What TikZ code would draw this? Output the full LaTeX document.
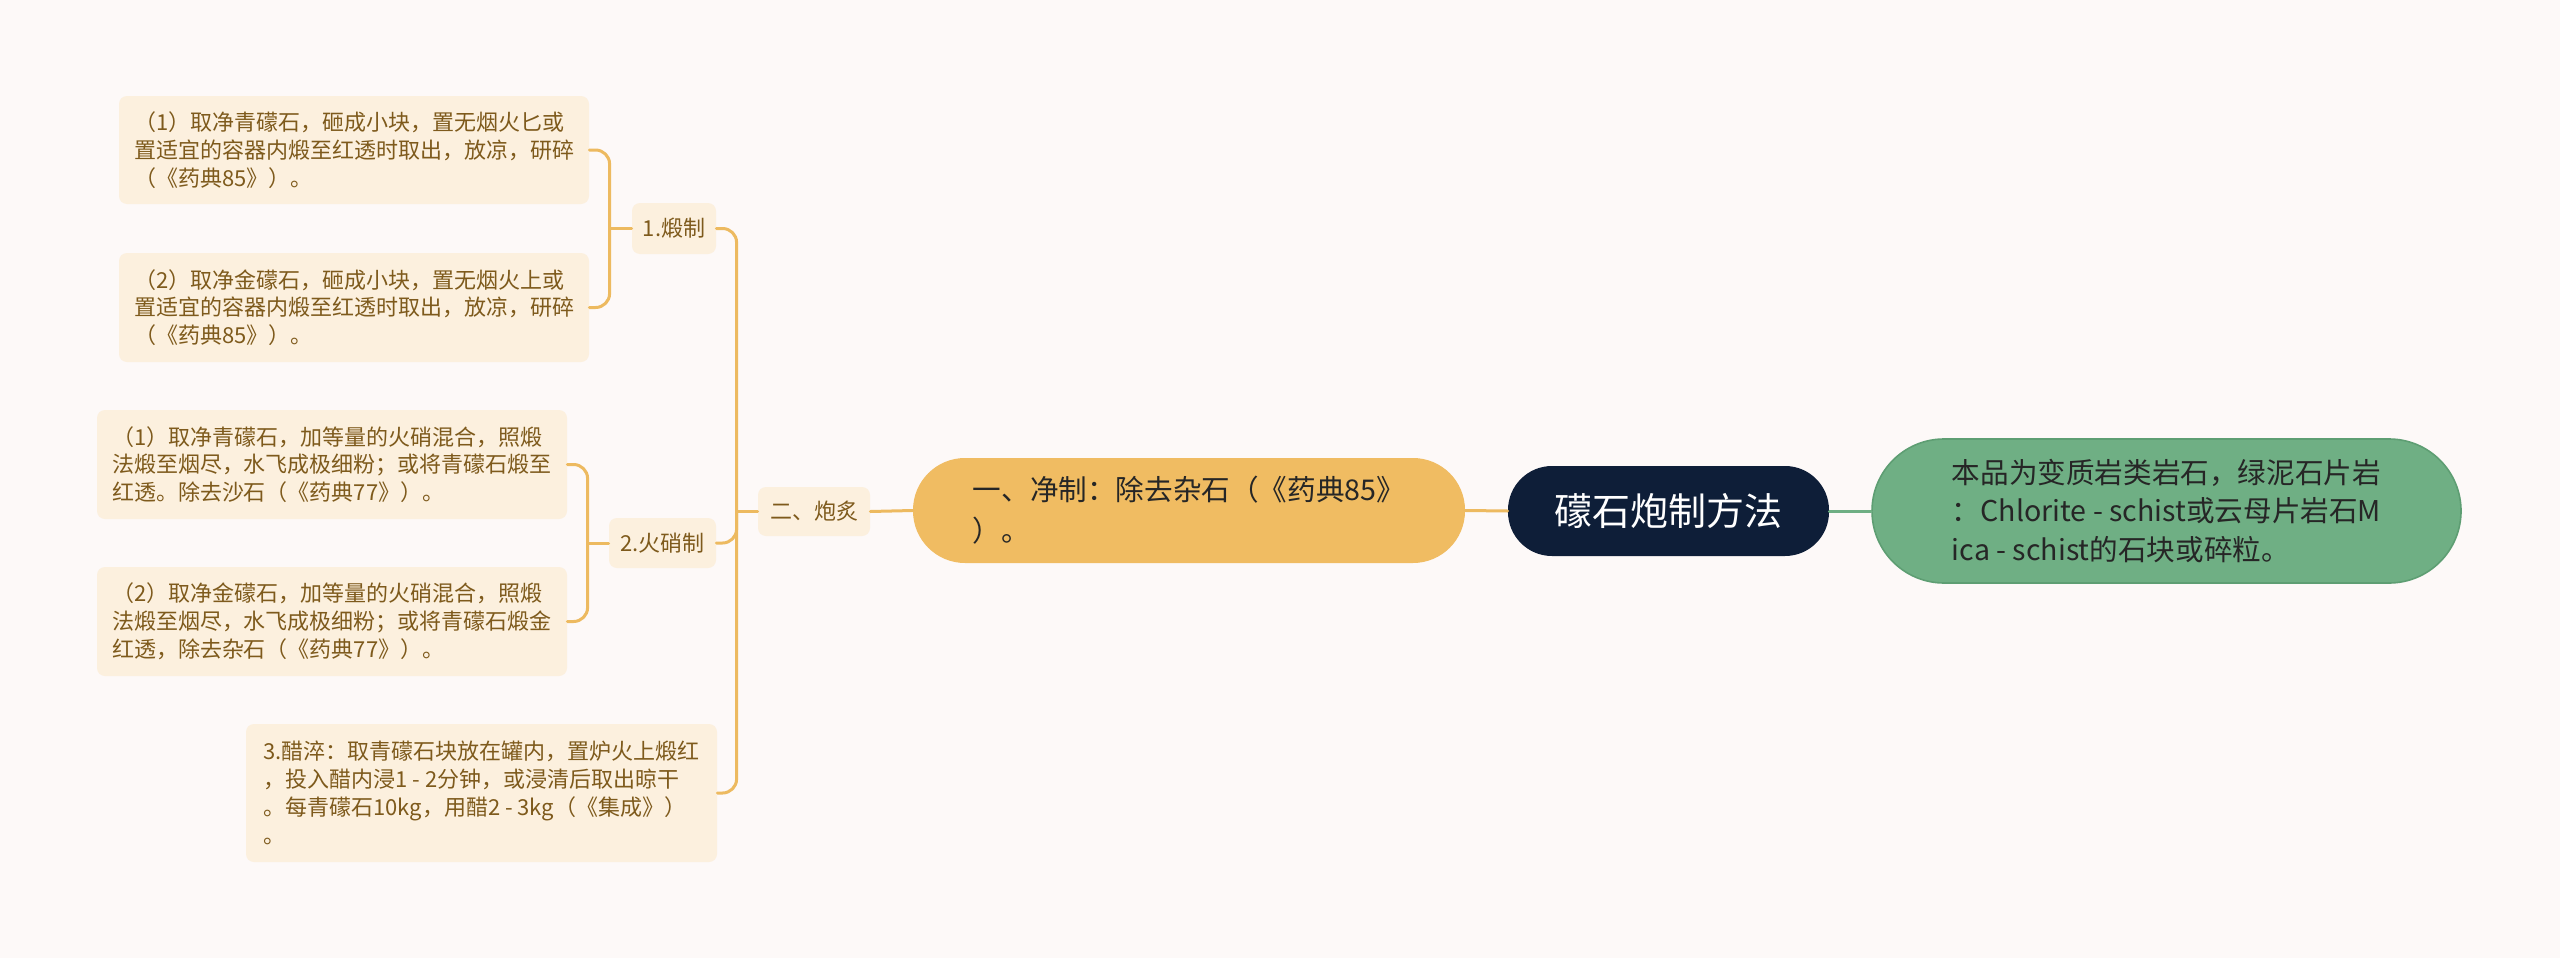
\documentclass[tikz,border=0pt]{standalone}
\usepackage{fontspec}
\newfontfamily\cjk{Noto Sans CJK SC}
\definecolor{nen}{HTML}{FDF9F8}
\definecolor{hop}{HTML}{FCF0DE}
\definecolor{chu}{HTML}{7E5A1C}
\definecolor{vang}{HTML}{EDBA60}
\definecolor{cam}{HTML}{F0BC62}
\definecolor{tham}{HTML}{0E1E38}
\definecolor{xanh}{HTML}{6FAF84}
\definecolor{vien}{HTML}{5E9E73}
\begin{document}
\begin{tikzpicture}[x=.5pt, y=-.5pt, line join=round, line cap=round,
    hop/.style={fill=hop, rounded corners=4pt, text=chu, align=left, inner sep=0pt,
        font=\cjk\fontsize{11}{13.9}\selectfont},
    noi/.style={draw=vang, line width=1.5pt},
    nhanh/.style={noi, rounded corners=7pt}]
    % nen
    \fill[nen] (0,0) rectangle (2560,958);
    \useasboundingbox (0,0) rectangle (2560,958);
    % goc
    \node[fill=tham, rounded corners=22pt, text=white, minimum width=160.5pt, minimum height=45pt,
        font=\cjk\fontsize{19}{23}\selectfont] (goc) at (1668.5,511) {礞石炮制方法};
    \node[fill=xanh, draw=vien, line width=.8pt, rounded corners=36pt, text=black!85, align=left,
        minimum width=294.5pt, minimum height=72pt, inner sep=0pt,
        font=\cjk\fontsize{14.3}{19.3}\selectfont] (mota) at (2166.5,511)
        {本品为变质岩类岩石，绿泥石片岩\\：Chlorite - schist或云母片岩石M\\ica - schist的石块或碎粒。};
    \node[fill=cam, rounded corners=26pt, text=black!85, align=left, minimum width=276pt,
        minimum height=52.5pt, inner sep=0pt, font=\cjk\fontsize{14.3}{20.5}\selectfont] (jz)
        at (1189,510.5) {一、净制：除去杂石（《药典85》\\）。};
    % nhanh trai
    \node[hop, minimum width=56pt, minimum height=24.5pt] (pz) at (814,511.5) {二、炮炙};
    \node[hop, minimum width=42pt, minimum height=25.5pt] (dz) at (674,228.5) {1.煅制};
    \node[hop, minimum width=53.5pt, minimum height=25pt] (hx) at (662.5,543) {2.火硝制};
    \node[hop, minimum width=235.5pt, minimum height=69pt] (cc) at (481.5,793)
        {3.醋淬：取青礞石块放在罐内，置炉火上煅红\\，投入醋内浸1 - 2分钟，或浸清后取出晾干\\。每青礞石10kg，用醋2 - 3kg（《集成》）\\。};
    \node[hop, minimum width=235pt, minimum height=54pt] (dz1) at (354,150)
        {（1）取净青礞石，砸成小块，置无烟火匕或\\置适宜的容器内煅至红透时取出，放凉，研碎\\（《药典85》）。};
    \node[hop, minimum width=235pt, minimum height=54.5pt] (dz2) at (354,307.5)
        {（2）取净金礞石，砸成小块，置无烟火上或\\置适宜的容器内煅至红透时取出，放凉，研碎\\（《药典85》）。};
    \node[hop, minimum width=235pt, minimum height=54.5pt] (hx1) at (332,464.5)
        {（1）取净青礞石，加等量的火硝混合，照煅\\法煅至烟尽，水飞成极细粉；或将青礞石煅至\\红透。除去沙石（《药典77》）。};
    \node[hop, minimum width=235pt, minimum height=54.5pt] (hx2) at (332,621.5)
        {（2）取净金礞石，加等量的火硝混合，照煅\\法煅至烟尽，水飞成极细粉；或将青礞石煅金\\红透，除去杂石（《药典77》）。};
    % duong noi
    \draw[draw=xanh, line width=1.5pt] (goc.east) -- (mota.west);
    \draw[noi] (goc.west) -- (jz.west -| jz.east);
    \draw[noi] (jz.west) -- (pz.east);
    \path (pz.west) ++(-21,0) coordinate (pzr) (dz.west) ++(-22,0) coordinate (dzr)
        (hx.west) ++(-21,0) coordinate (hxr);
    \draw[noi] (pz.west) -- (pzr);
    \foreach \n in {dz,hx,cc} \draw[nhanh] (pzr) |- (\n.east);
    \draw[noi] (dz.west) -- (dzr);
    \foreach \n in {dz1,dz2} \draw[nhanh] (dzr) |- (\n.east);
    \draw[noi] (hx.west) -- (hxr);
    \foreach \n in {hx1,hx2} \draw[nhanh] (hxr) |- (\n.east);
\end{tikzpicture}
\end{document}
